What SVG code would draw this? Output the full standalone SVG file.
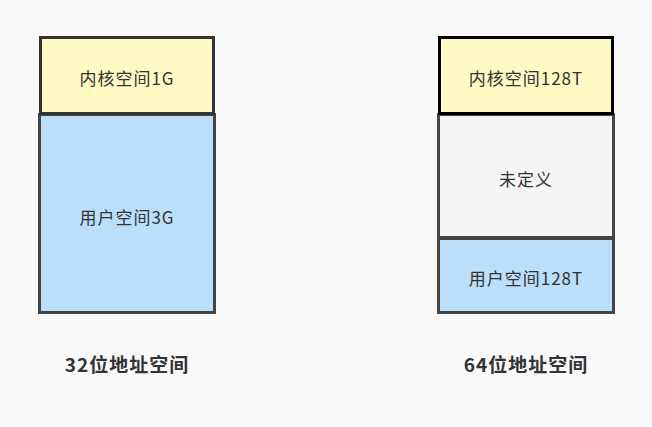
<svg xmlns="http://www.w3.org/2000/svg" width="652" height="427" viewBox="0 0 652 427">
<style>
text{font-family:"Noto Sans CJK SC","Liberation Sans",sans-serif;font-size:17px;letter-spacing:1px;fill:#333;text-anchor:middle;dominant-baseline:central}
.k{fill:#fff9c4;stroke:#333;stroke-width:3}
.u{fill:#bbdefb;stroke:#444;stroke-width:3}
.n{fill:#f5f5f5;stroke:#444;stroke-width:3}
.t{font-weight:bold;font-size:19px;letter-spacing:1px}
</style>
<rect width="652" height="427" fill="#f9f9f9"/>
<g id="left-user"><rect class="u" x="39.5" y="114.5" width="175" height="198"/><text x="127" y="216">用户空间3G</text></g>
<g id="left-kernel"><rect class="k" x="40.5" y="37.5" width="173" height="76"/><text x="127" y="77">内核空间1G</text></g>
<g id="right-undef"><rect class="n" x="438.5" y="114.5" width="175" height="123"/><text x="526" y="178">未定义</text></g>
<g id="right-user"><rect class="u" x="438.5" y="238.5" width="175" height="74"/><text x="526" y="277">用户空间128T</text></g>
<g id="right-kernel"><rect class="k" style="stroke:#000" x="439.5" y="37.5" width="173" height="76"/><text x="526" y="77">内核空间128T</text></g>
<g id="label-32"><text class="t" x="127" y="363">32位地址空间</text></g>
<g id="label-64"><text class="t" x="526" y="363">64位地址空间</text></g>
<g id="connectors"></g>
</svg>
